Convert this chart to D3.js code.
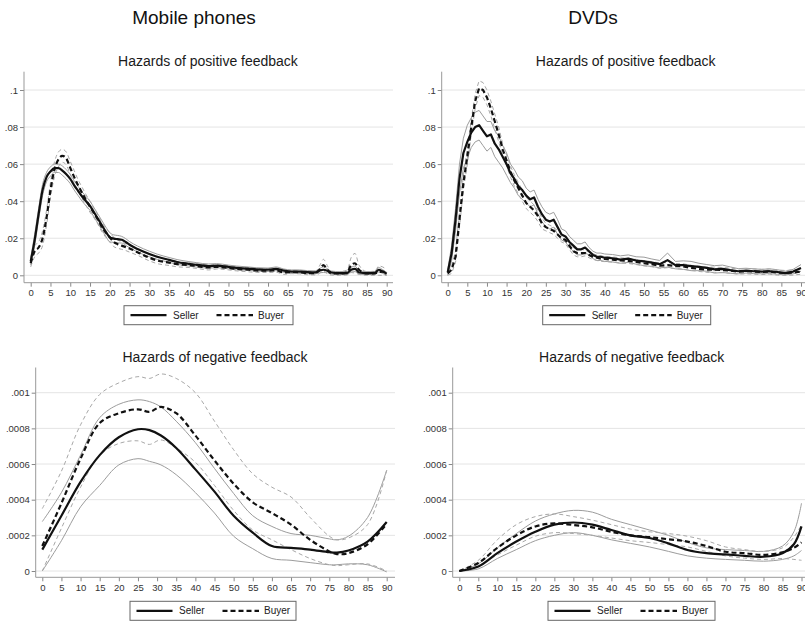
<!DOCTYPE html>
<html>
<head>
<meta charset="utf-8">
<script src="https://cdn.jsdelivr.net/npm/d3@7"></script>
<style>
  html, body { margin: 0; padding: 0; background: #fff; }
  svg { display: block; font-family: "Liberation Sans", Arial, sans-serif; }
</style>
</head>
<body>
<div id="chart"></div>
<script>
// ---- text ----
const columnTitles = ['Mobile phones', 'DVDs'];
const panelTitles = ['Hazards of positive feedback', 'Hazards of negative feedback'];
const legendLabels = ['Seller', 'Buyer'];
const xTickValues = [0, 5, 10, 15, 20, 25, 30, 35, 40, 45, 50, 55, 60, 65, 70, 75, 80, 85, 90];
const posTicks = [0, 0.02, 0.04, 0.06, 0.08, 0.1];
const posTickLabels = ['0', '.02', '.04', '.06', '.08', '.1'];
const negTicks = [0, 0.0002, 0.0004, 0.0006, 0.0008, 0.001];
const negTickLabels = ['0', '.0002', '.0004', '.0006', '.0008', '.001'];

// ---- mobile phones, positive feedback ----
const mpX = [
  0, 1, 2, 3, 4, 5, 6, 7, 8, 9,
  10, 11, 12, 13, 14, 15, 16, 17, 18, 19,
  20, 21, 22, 23, 24, 25, 27, 30, 32, 35,
  37, 40, 42, 45, 47, 50, 52, 55, 57, 60,
  62, 64, 66, 68, 70, 72, 73, 74, 75, 76,
  78, 80, 81, 82, 83, 85, 87, 88, 89, 90];
const mpSeller = [
  .0075, .019, .033, .046, .053, .056, .0578, .0578, .0565, .0545,
  .052, .0485, .0455, .0425, .040, .0375, .034, .0305, .027, .0235,
  .0205, .0198, .0195, .0192, .018, .0165, .0142, .0115, .0100, .0083,
  .0072, .0062, .0056, .0050, .0052, .0045, .0040, .0036, .0032, .0030,
  .0035, .0025, .0020, .0020, .0017, .0016, .0025, .0030, .0025, .0015,
  .0012, .0012, .0030, .0035, .0015, .0012, .0013, .0030, .0020, .0008];
const mpSellerHi = [
  .0095, .022, .036, .049, .0555, .0585, .060, .060, .059, .057,
  .0545, .051, .048, .045, .0425, .040, .0365, .033, .0295, .026,
  .023, .0218, .0215, .021, .0198, .0182, .0158, .013, .0114, .0096,
  .0085, .0074, .0068, .0061, .0063, .0055, .0050, .0045, .0041, .0039,
  .0045, .0034, .0029, .0029, .0025, .0024, .0036, .0045, .0036, .0023,
  .0020, .0020, .0042, .0050, .0024, .0020, .0021, .0042, .0030, .0016];
const mpSellerLo = [
  .0055, .016, .030, .043, .0505, .0535, .0555, .0555, .054, .052,
  .0495, .046, .043, .040, .0375, .035, .0315, .028, .0245, .021,
  .018, .0178, .0175, .0174, .0162, .0148, .0126, .010, .0086, .0070,
  .0059, .0050, .0044, .0039, .0041, .0035, .0030, .0027, .0023, .0021,
  .0025, .0016, .0011, .0011, .0009, .0008, .0014, .0015, .0014, .0007,
  .0004, .0004, .0018, .0020, .0006, .0004, .0005, .0018, .0010, .0000];
const mpBuyer = [
  .0065, .013, .015, .020, .031, .046, .057, .0625, .0645, .063,
  .058, .053, .0485, .0445, .0405, .037, .0335, .030, .026, .023,
  .0205, .018, .0168, .016, .0152, .0145, .0125, .0095, .0080, .0068,
  .0060, .0055, .0050, .0042, .0046, .0040, .0035, .0030, .0026, .0025,
  .0027, .0015, .0018, .0017, .0012, .0012, .0030, .0055, .0030, .0010,
  .0010, .0015, .0055, .0065, .0030, .0010, .0010, .0018, .0020, .0012];
const mpBuyerHi = [
  .0085, .016, .018, .024, .035, .050, .061, .0665, .068, .0665,
  .0615, .0565, .0515, .0475, .0435, .040, .036, .0325, .0285, .0255,
  .023, .0205, .019, .018, .017, .0165, .0142, .0112, .0097, .0083,
  .0074, .0068, .0063, .0055, .0058, .0051, .0046, .0041, .0036, .0035,
  .0037, .0025, .0027, .0026, .0021, .0022, .0050, .0086, .0052, .0019,
  .0020, .0028, .0095, .0118, .0055, .0020, .0022, .0050, .0045, .0030];
const mpBuyerLo = [
  .0045, .010, .012, .016, .027, .042, .053, .0585, .061, .0595,
  .0545, .0495, .0455, .0415, .0375, .034, .031, .0275, .0235, .0205,
  .018, .0155, .0146, .014, .0134, .0125, .0108, .0078, .0063, .0053,
  .0046, .0042, .0037, .0029, .0034, .0029, .0024, .0019, .0016, .0015,
  .0017, .0005, .0009, .0008, .0003, .0002, .0010, .0024, .0008, .0001,
  .0000, .0002, .0015, .0012, .0005, .0000, .0000, .0000, .0000, .0000];

// ---- DVDs, positive feedback ----
const dpX = [
  0, 1, 2, 3, 4, 5, 6, 7, 8, 9,
  10, 11, 12, 13, 14, 15, 16, 17, 18, 19,
  20, 21, 22, 23, 24, 25, 26, 27, 28, 29,
  30, 31, 32, 33, 34, 35, 36, 37, 38, 39,
  40, 42, 44, 46, 48, 50, 52, 54, 56, 58,
  60, 62, 64, 66, 68, 70, 72, 74, 76, 78,
  80, 82, 84, 86, 88, 90];
const dpSeller = [
  .0015, .012, .030, .052, .066, .072, .077, .080, .081, .078,
  .075, .076, .071, .068, .064, .060, .055, .052, .048, .046,
  .043, .041, .042, .037, .033, .030, .029, .030, .026, .022,
  .021, .018, .016, .014, .014, .015, .013, .011, .010, .010,
  .0095, .0092, .0085, .0090, .0080, .0075, .0068, .0060, .0082, .0055,
  .0055, .0050, .0045, .0040, .0032, .0035, .0028, .0022, .0025, .0022,
  .0020, .0022, .0018, .0012, .0020, .0040];
const dpSellerHi = [
  .003, .016, .036, .060, .074, .081, .085, .088, .089, .086,
  .083, .083, .078, .075, .070, .066, .060, .057, .053, .051,
  .047, .045, .046, .041, .037, .034, .033, .034, .030, .025,
  .024, .021, .019, .017, .017, .018, .015, .013, .012, .012,
  .0115, .0112, .0105, .0110, .0100, .0098, .0088, .0080, .0120, .0075,
  .0078, .0075, .0065, .0058, .0052, .0055, .0045, .0036, .0038, .0035,
  .0032, .0035, .0030, .0022, .0032, .0058];
const dpSellerLo = [
  .000, .008, .024, .044, .058, .063, .069, .072, .073, .070,
  .067, .069, .064, .061, .058, .054, .050, .047, .043, .041,
  .039, .037, .038, .033, .029, .026, .025, .026, .022, .019,
  .018, .015, .013, .011, .011, .012, .011, .009, .008, .008,
  .0075, .0072, .0065, .0070, .0060, .0052, .0048, .0040, .0044, .0035,
  .0032, .0025, .0025, .0022, .0012, .0015, .0011, .0008, .0012, .0009,
  .0008, .0009, .0006, .0002, .0008, .0022];
const dpBuyer = [
  .001, .003, .010, .030, .050, .064, .080, .094, .101, .100,
  .096, .090, .083, .076, .068, .062, .056, .051, .047, .043,
  .039, .037, .035, .032, .028, .026, .025, .024, .022, .020,
  .019, .016, .013, .012, .012, .012, .011, .010, .0095, .009,
  .0088, .0085, .0080, .0078, .0072, .0065, .0060, .0052, .0055, .0050,
  .0048, .0040, .0035, .0030, .0030, .0028, .0025, .0020, .0022, .0020,
  .0018, .0020, .0015, .0012, .0015, .0020];
const dpBuyerHi = [
  .002, .005, .013, .034, .054, .068, .084, .098, .105, .104,
  .100, .094, .087, .080, .071, .065, .059, .054, .050, .046,
  .042, .040, .038, .035, .031, .028, .027, .026, .024, .022,
  .021, .018, .015, .014, .014, .0135, .0125, .0115, .011, .0105,
  .0102, .0099, .0094, .0092, .0086, .0079, .0074, .0066, .0069, .0064,
  .0062, .0054, .0049, .0044, .0044, .0042, .0039, .0034, .0036, .0034,
  .0032, .0034, .0029, .0026, .0029, .0034];
const dpBuyerLo = [
  .000, .001, .007, .026, .046, .060, .076, .090, .097, .096,
  .092, .086, .079, .072, .065, .059, .053, .048, .044, .040,
  .036, .034, .032, .029, .025, .024, .023, .022, .020, .018,
  .017, .014, .011, .010, .010, .0105, .0095, .0085, .008, .0075,
  .0074, .0071, .0066, .0064, .0058, .0051, .0046, .0038, .0041, .0036,
  .0034, .0026, .0021, .0016, .0016, .0014, .0011, .0006, .0008, .0006,
  .0004, .0006, .0001, .0000, .0001, .0006];

// ---- mobile phones, negative feedback ----
const mnX = [0, 5, 10, 15, 20, 25, 28, 31, 35, 40, 45, 50, 55, 60, 65, 70, 75, 77, 80, 85, 90];
const mnSeller = [1.2e-4, 3.1e-4, 5.0e-4, 6.5e-4, 7.5e-4, 7.95e-4, 7.9e-4, 7.6e-4, 6.9e-4, 5.7e-4, 4.45e-4,
  3.1e-4, 2.15e-4, 1.4e-4, 1.3e-4, 1.2e-4, 1.05e-4, 1.03e-4, 1.15e-4, 1.65e-4, 2.75e-4];
const mnSellerHi = [2.77e-4, 4.4e-4, 6.5e-4, 8.6e-4, 9.35e-4, 9.6e-4, 9.5e-4, 9.2e-4, 8.4e-4, 7.2e-4, 5.75e-4,
  4.35e-4, 3.1e-4, 2.5e-4, 2.1e-4, 2.0e-4, 1.8e-4, 1.75e-4, 1.95e-4, 3.0e-4, 5.65e-4];
const mnSellerLo = [0, 1.7e-4, 3.6e-4, 4.8e-4, 5.95e-4, 6.3e-4, 6.15e-4, 5.95e-4, 5.4e-4, 4.4e-4, 3.25e-4,
  1.95e-4, 1.25e-4, 0.7e-4, 0.6e-4, 0.47e-4, 0.35e-4, 0.35e-4, 0.4e-4, 0.35e-4, -0.05e-4];
const mnBuyer = [1.4e-4, 3.8e-4, 6.3e-4, 8.3e-4, 8.85e-4, 9.07e-4, 8.93e-4, 9.2e-4, 8.85e-4, 7.6e-4, 6.2e-4,
  4.9e-4, 3.85e-4, 3.25e-4, 2.6e-4, 1.75e-4, 1.1e-4, 0.95e-4, 1.0e-4, 1.5e-4, 2.65e-4];
const mnBuyerHi = [3.5e-4, 5.6e-4, 8.2e-4, 9.9e-4, 10.55e-4, 10.9e-4, 10.8e-4, 11.05e-4, 10.8e-4, 10.0e-4, 8.4e-4,
  6.8e-4, 5.45e-4, 4.7e-4, 4.15e-4, 3.0e-4, 1.95e-4, 1.75e-4, 1.85e-4, 2.6e-4, 5.65e-4];
const mnBuyerLo = [0, 2.4e-4, 4.7e-4, 6.5e-4, 7.15e-4, 7.3e-4, 7.1e-4, 7.35e-4, 6.9e-4, 6.1e-4, 4.8e-4,
  3.4e-4, 2.3e-4, 1.75e-4, 1.2e-4, 0.7e-4, 0.35e-4, 0.3e-4, 0.35e-4, 0.4e-4, 0];

// ---- DVDs, negative feedback ----
const dnX = [0, 5, 10, 15, 20, 25, 30, 35, 40, 45, 50, 55, 60, 65, 70, 75, 80, 85, 88, 90];
const dnSeller = [0, 0.25e-4, 1.0e-4, 1.65e-4, 2.2e-4, 2.6e-4, 2.72e-4, 2.6e-4, 2.3e-4, 2.0e-4,
  1.85e-4, 1.55e-4, 1.18e-4, 1.0e-4, 0.93e-4, 0.85e-4, 0.8e-4, 1.0e-4, 1.5e-4, 2.5e-4];
const dnSellerHi = [0, 0.4e-4, 1.3e-4, 2.1e-4, 2.8e-4, 3.2e-4, 3.4e-4, 3.3e-4, 2.9e-4, 2.6e-4,
  2.3e-4, 2.0e-4, 1.6e-4, 1.3e-4, 1.2e-4, 1.15e-4, 1.1e-4, 1.4e-4, 2.2e-4, 3.8e-4];
const dnSellerLo = [0, 0.12e-4, 0.7e-4, 1.2e-4, 1.7e-4, 2.0e-4, 2.15e-4, 2.0e-4, 1.75e-4, 1.55e-4,
  1.35e-4, 1.1e-4, 0.85e-4, 0.72e-4, 0.65e-4, 0.6e-4, 0.55e-4, 0.65e-4, 0.85e-4, 1.15e-4];
const dnBuyer = [0, 0.45e-4, 1.3e-4, 2.0e-4, 2.5e-4, 2.67e-4, 2.58e-4, 2.45e-4, 2.2e-4, 2.0e-4,
  1.9e-4, 1.78e-4, 1.65e-4, 1.4e-4, 1.08e-4, 1.0e-4, 0.9e-4, 1.05e-4, 1.3e-4, 1.6e-4];
const dnBuyerHi = [0, 0.6e-4, 1.75e-4, 2.6e-4, 3.05e-4, 3.2e-4, 3.05e-4, 2.85e-4, 2.6e-4, 2.35e-4,
  2.2e-4, 2.1e-4, 1.95e-4, 1.7e-4, 1.35e-4, 1.2e-4, 1.1e-4, 1.3e-4, 1.9e-4, 2.6e-4];
const dnBuyerLo = [0, 0.3e-4, 0.9e-4, 1.45e-4, 1.95e-4, 2.15e-4, 2.1e-4, 2.0e-4, 1.85e-4, 1.7e-4,
  1.6e-4, 1.48e-4, 1.35e-4, 1.1e-4, 0.85e-4, 0.72e-4, 0.65e-4, 0.7e-4, 0.65e-4, 0.6e-4];

// ---- layout ----
const W = 805, H = 621;
const svg = d3.select('#chart').append('svg').attr('width', W).attr('height', H);

svg.selectAll('text.coltitle')
  .data(columnTitles)
  .join('text')
  .attr('class', 'coltitle')
  .attr('x', (d, i) => [194, 593][i])
  .attr('y', 24)
  .attr('text-anchor', 'middle')
  .attr('font-size', '19px')
  .attr('fill', '#111')
  .text(d => d);

const posRows = { y0: 275.3, y1: 90, top: 71.7, bottom: 282.7, titleY: 66, legY: 305.7 };
const negRows = { y0: 571, y1: 392.7, top: 367.5, bottom: 577.3, titleY: 362, legY: 601.3 };

const panels = [
  { title: panelTitles[0], xs: mpX, s: mpSeller, sHi: mpSellerHi, sLo: mpSellerLo, b: mpBuyer, bHi: mpBuyerHi, bLo: mpBuyerLo,
    ticks: posTicks, labels: posTickLabels, yDom: [0, 0.1], curve: d3.curveMonotoneX,
    box: { ...posRows, axisX: 24, x0: 30.7, x1: 386.7, right: 393, titleX: 208, legX: 124, legW: 169 } },
  { title: panelTitles[0], xs: dpX, s: dpSeller, sHi: dpSellerHi, sLo: dpSellerLo, b: dpBuyer, bHi: dpBuyerHi, bLo: dpBuyerLo,
    ticks: posTicks, labels: posTickLabels, yDom: [0, 0.1], curve: d3.curveLinear,
    box: { ...posRows, axisX: 441.7, x0: 447.7, x1: 801, right: 810, titleX: 625.7, legX: 542.7, legW: 168 } },
  { title: panelTitles[1], xs: mnX, s: mnSeller, sHi: mnSellerHi, sLo: mnSellerLo, b: mnBuyer, bHi: mnBuyerHi, bLo: mnBuyerLo,
    ticks: negTicks, labels: negTickLabels, yDom: [0, 0.001], curve: d3.curveCatmullRom,
    box: { ...negRows, axisX: 35.7, x0: 42.3, x1: 386.7, right: 395, titleX: 215, legX: 130, legW: 166 } },
  { title: panelTitles[1], xs: dnX, s: dnSeller, sHi: dnSellerHi, sLo: dnSellerLo, b: dnBuyer, bHi: dnBuyerHi, bLo: dnBuyerLo,
    ticks: negTicks, labels: negTickLabels, yDom: [0, 0.001], curve: d3.curveCatmullRom,
    box: { ...negRows, axisX: 452.7, x0: 459.3, x1: 801.5, right: 810, titleX: 631.7, legX: 548, legW: 167 } }
];

// CI lines first, estimates on top
const seriesStyles = [
  { key: 'sHi', stroke: '#9c9c9c', width: 1, dash: null },
  { key: 'sLo', stroke: '#9c9c9c', width: 1, dash: null },
  { key: 'bHi', stroke: '#a8a8a8', width: 1, dash: '4,3' },
  { key: 'bLo', stroke: '#a8a8a8', width: 1, dash: '4,3' },
  { key: 's', stroke: '#111', width: 2.2, dash: null },
  { key: 'b', stroke: '#111', width: 2.2, dash: '5,3' }
];

function drawPanel(p) {
  const L = p.box;
  const g = svg.append('g');
  const x = d3.scaleLinear().domain([0, 90]).range([L.x0, L.x1]);
  const y = d3.scaleLinear().domain(p.yDom).range([L.y0, L.y1]);

  // gridlines
  g.append('g').selectAll('line')
    .data(p.ticks)
    .join('line')
    .attr('x1', L.axisX).attr('x2', L.right)
    .attr('y1', d => y(d)).attr('y2', d => y(d))
    .attr('stroke', '#e4e4e4')
    .attr('stroke-width', 1);

  // axes
  const yAxis = d3.axisLeft(y)
    .tickValues(p.ticks)
    .tickFormat((d, i) => p.labels[i])
    .tickSize(4).tickPadding(2).tickSizeOuter(0);
  const ya = g.append('g').attr('transform', `translate(${L.axisX},0)`).call(yAxis);

  const xAxis = d3.axisBottom(x)
    .tickValues(xTickValues)
    .tickFormat(d => String(d))
    .tickSize(4).tickPadding(3).tickSizeOuter(0);
  const xa = g.append('g').attr('transform', `translate(0,${L.bottom})`).call(xAxis);

  [ya, xa].forEach(a => {
    a.select('.domain').remove();
    a.selectAll('.tick line').attr('stroke', '#888');
    a.selectAll('.tick text')
      .attr('fill', '#333')
      .attr('font-size', '9.5px')
      .attr('font-family', '"Liberation Sans", Arial, sans-serif');
  });

  g.append('line')
    .attr('x1', L.axisX).attr('x2', L.axisX)
    .attr('y1', L.top).attr('y2', L.bottom)
    .attr('stroke', '#999');
  g.append('line')
    .attr('x1', L.axisX).attr('x2', L.right)
    .attr('y1', L.bottom).attr('y2', L.bottom)
    .attr('stroke', '#999');

  // title
  g.append('text')
    .attr('x', L.titleX).attr('y', L.titleY)
    .attr('text-anchor', 'middle')
    .attr('font-size', '14px')
    .attr('fill', '#1a1a1a')
    .text(p.title);

  // lines
  const line = d3.line()
    .x(d => x(d[0]))
    .y(d => y(d[1]))
    .curve(p.curve);

  g.append('g').selectAll('path')
    .data(seriesStyles)
    .join('path')
    .attr('d', st => line(p.xs.map((xv, i) => [xv, p[st.key][i]])))
    .attr('fill', 'none')
    .attr('stroke', st => st.stroke)
    .attr('stroke-width', st => st.width)
    .attr('stroke-dasharray', st => st.dash)
    .attr('stroke-linejoin', 'round');

  // legend
  const lg = g.append('g').attr('transform', `translate(${L.legX},${L.legY})`);
  lg.append('rect')
    .attr('width', L.legW).attr('height', 19)
    .attr('fill', '#fff')
    .attr('stroke', '#666')
    .attr('stroke-width', 1);
  const items = [
    { label: legendLabels[0], dash: null, x1: 6.5, x2: 42.5, tx: 49 },
    { label: legendLabels[1], dash: '5,3', x1: 92.5, x2: 129, tx: 134 }
  ];
  items.forEach(it => {
    lg.append('line')
      .attr('x1', it.x1).attr('x2', it.x2)
      .attr('y1', 9.5).attr('y2', 9.5)
      .attr('stroke', '#111')
      .attr('stroke-width', 2.2)
      .attr('stroke-dasharray', it.dash);
    lg.append('text')
      .attr('x', it.tx).attr('y', 13)
      .attr('font-size', '10px')
      .attr('fill', '#222')
      .text(it.label);
  });
}

panels.forEach(drawPanel);
</script>
</body>
</html>
